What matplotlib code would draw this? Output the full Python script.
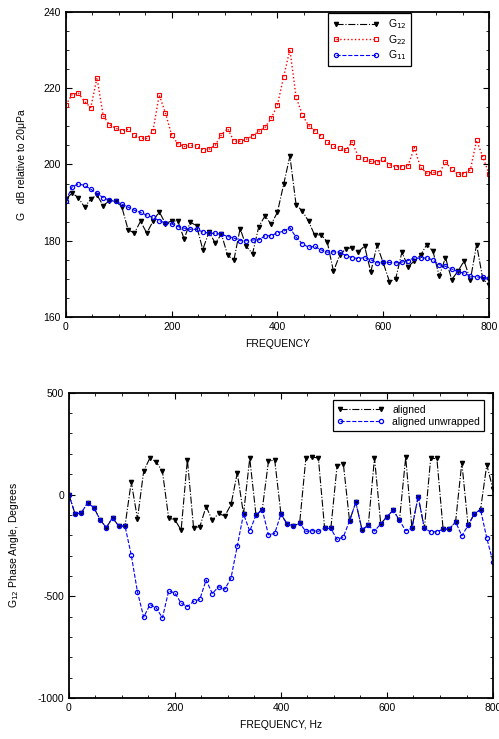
import matplotlib
matplotlib.use("Agg")
import matplotlib.pyplot as plt
from matplotlib.ticker import MultipleLocator

plt.rcParams['font.family'] = ['Liberation Sans', 'DejaVu Sans']
plt.rcParams['axes.unicode_minus'] = False

freq = [0.0, 11.76, 23.53, 35.29, 47.06, 58.82, 70.59, 82.35, 94.12, 105.88,
        117.65, 129.41, 141.18, 152.94, 164.71, 176.47, 188.24, 200.0, 211.76, 223.53,
        235.29, 247.06, 258.82, 270.59, 282.35, 294.12, 305.88, 317.65, 329.41, 341.18,
        352.94, 364.71, 376.47, 388.24, 400.0, 411.76, 423.53, 435.29, 447.06, 458.82,
        470.59, 482.35, 494.12, 505.88, 517.65, 529.41, 541.18, 552.94, 564.71, 576.47,
        588.24, 600.0, 611.76, 623.53, 635.29, 647.06, 658.82, 670.59, 682.35, 694.12,
        705.88, 717.65, 729.41, 741.18, 752.94, 764.71, 776.47, 788.24, 800.0]

g12 = [190.9, 192.5, 191.3, 188.8, 190.9, 192.0, 189.2, 190.5, 190.4, 188.8,
       182.9, 182.0, 185.1, 182.0, 185.1, 187.6, 184.5, 185.2, 185.1, 180.5,
       184.9, 183.9, 177.7, 182.3, 179.4, 181.7, 176.2, 174.9, 183.2, 178.5,
       176.6, 183.7, 186.5, 184.3, 187.5, 194.8, 202.2, 189.4, 187.8, 185.1,
       181.4, 181.6, 179.7, 172.0, 176.2, 177.9, 178.2, 177.1, 178.6, 171.8,
       178.8, 174.2, 169.3, 170.0, 177.0, 173.2, 174.7, 176.2, 179.0, 177.2,
       170.7, 175.6, 169.8, 172.0, 174.7, 169.7, 179.0, 170.0, 168.4]

g22 = [215.6, 218.3, 218.7, 216.5, 214.9, 222.7, 212.8, 210.4, 209.5, 208.8,
       209.2, 207.6, 206.9, 206.8, 208.8, 218.2, 213.5, 207.7, 205.4, 204.7,
       205.0, 204.8, 203.9, 204.0, 205.0, 207.8, 209.4, 206.1, 206.1, 206.6,
       207.5, 208.7, 209.7, 212.1, 215.6, 223.0, 230.1, 217.6, 213.0, 210.2,
       208.8, 207.4, 205.9, 204.8, 204.2, 203.7, 205.9, 202.0, 201.3, 200.8,
       200.6, 201.3, 199.9, 199.4, 199.4, 199.7, 204.4, 199.2, 197.7, 197.9,
       197.8, 200.6, 198.7, 197.4, 197.6, 198.6, 206.3, 202.0, 197.5]

g11 = [190.5, 194.1, 194.9, 194.5, 193.5, 192.4, 191.3, 190.6, 190.3, 189.6,
       188.8, 188.0, 187.4, 186.7, 186.1, 185.3, 184.6, 184.4, 183.7, 183.3,
       183.0, 183.0, 182.3, 182.0, 181.9, 181.7, 181.1, 180.7, 180.0, 180.0,
       180.2, 180.2, 181.3, 181.3, 182.1, 182.5, 183.4, 180.9, 179.2, 178.3,
       178.5, 177.6, 177.0, 177.1, 177.0, 176.1, 175.6, 175.3, 175.6, 175.0,
       174.2, 174.3, 174.3, 174.2, 174.4, 174.8, 175.5, 175.4, 175.5, 174.9,
       173.7, 173.3, 172.6, 171.9, 171.5, 170.7, 170.5, 170.4, 170.1]

aligned = [0, -96, -90, -41, -64, -123, -163, -114, -155, -155,
           62, -119, 116, 180, 160, 114, -116, -124, -175, 172,
           -165, -158, -59, -127, -93, -106, -49, 106, -96, 178,
           -101, -74, 163, 170, -96, -145, -155, -141, 180, 183,
           180, -165, -167, 141, 152, -129, -39, -173, -152, 180,
           -144, -109, -77, -127, 182, -165, -10, -167, 177, 177,
           -170, -170, -134, 157, -152, -95, -74, 146, 25]

unwrapped = [0, -96, -90, -41, -64, -123, -163, -114, -155, -155,
             -297, -479, -603, -541, -557, -606, -474, -484, -534, -551,
             -525, -515, -420, -487, -453, -466, -410, -253, -96, -180,
             -101, -74, -198, -191, -96, -145, -155, -141, -181, -178,
             -181, -165, -167, -221, -209, -129, -39, -173, -152, -180,
             -144, -109, -77, -127, -178, -165, -10, -167, -183, -183,
             -170, -170, -134, -203, -152, -95, -74, -214, -332]

fig = plt.figure(figsize=(4.99, 7.39), dpi=100)
ax1 = fig.add_axes([0.132, 0.571, 0.848, 0.413])
ax2 = fig.add_axes([0.138, 0.0555, 0.850, 0.413])

ms = 3.0
ax1.plot(freq, g12, color='black', linestyle='-.', linewidth=0.8, marker='v',
         markersize=ms, markerfacecolor='black', label='G$_{12}$')
ax1.plot(freq, g22, color='red', linestyle=':', linewidth=1.0, marker='s',
         markersize=ms, markerfacecolor='none', markeredgewidth=0.8, label='G$_{22}$')
ax1.plot(freq, g11, color='blue', linestyle='--', linewidth=0.8, marker='o',
         markersize=ms, markerfacecolor='none', markeredgewidth=0.9, label='G$_{11}$')
ax1.set_xlim(0, 800)
ax1.set_ylim(160, 240)
ax1.xaxis.set_major_locator(MultipleLocator(200))
ax1.xaxis.set_minor_locator(MultipleLocator(50))
ax1.yaxis.set_major_locator(MultipleLocator(20))
ax1.yaxis.set_minor_locator(MultipleLocator(5))
ax1.set_xlabel('FREQUENCY', fontsize=7.5, labelpad=5)
ax1.set_ylabel('G   dB relative to 20\u03bcPa', fontsize=7.5, labelpad=12)
leg1 = ax1.legend(loc='upper left', bbox_to_anchor=(0.62, 0.995), fontsize=7.5,
                  frameon=True, fancybox=False, edgecolor='black', framealpha=1,
                  handlelength=4.5, borderaxespad=0, labelspacing=0.15,
                  borderpad=0.4, handletextpad=0.8, numpoints=2)
leg1.get_frame().set_linewidth(0.9)

ax2.plot(freq, aligned, color='black', linestyle='-.', linewidth=0.8, marker='v',
         markersize=ms, markerfacecolor='black', label='aligned')
ax2.plot(freq, unwrapped, color='blue', linestyle='--', linewidth=0.8, marker='o',
         markersize=ms, markerfacecolor='none', markeredgewidth=0.9, label='aligned unwrapped')
ax2.set_xlim(0, 800)
ax2.set_ylim(-1000, 500)
ax2.xaxis.set_major_locator(MultipleLocator(200))
ax2.xaxis.set_minor_locator(MultipleLocator(50))
ax2.yaxis.set_major_locator(MultipleLocator(500))
ax2.yaxis.set_minor_locator(MultipleLocator(100))
ax2.set_xlabel('FREQUENCY, Hz', fontsize=7.5, labelpad=5)
ax2.set_ylabel('G$_{12}$ Phase Angle, Degrees', fontsize=7.5, labelpad=12)
leg2 = ax2.legend(loc='upper right', bbox_to_anchor=(0.979, 0.975), fontsize=7.5,
                  frameon=True, fancybox=False, edgecolor='black', framealpha=1,
                  handlelength=4.5, borderaxespad=0, labelspacing=0.2,
                  borderpad=0.4, handletextpad=0.8, numpoints=2)
leg2.get_frame().set_linewidth(0.9)

for ax in (ax1, ax2):
    for s in ax.spines.values():
        s.set_linewidth(1.3)
    ax.tick_params(which='both', direction='in', top=True, right=True, labelsize=7.5)
    ax.tick_params(which='major', length=4, width=0.8)
    ax.tick_params(which='minor', length=2, width=0.6)

fig.savefig('out.png', dpi=100)
